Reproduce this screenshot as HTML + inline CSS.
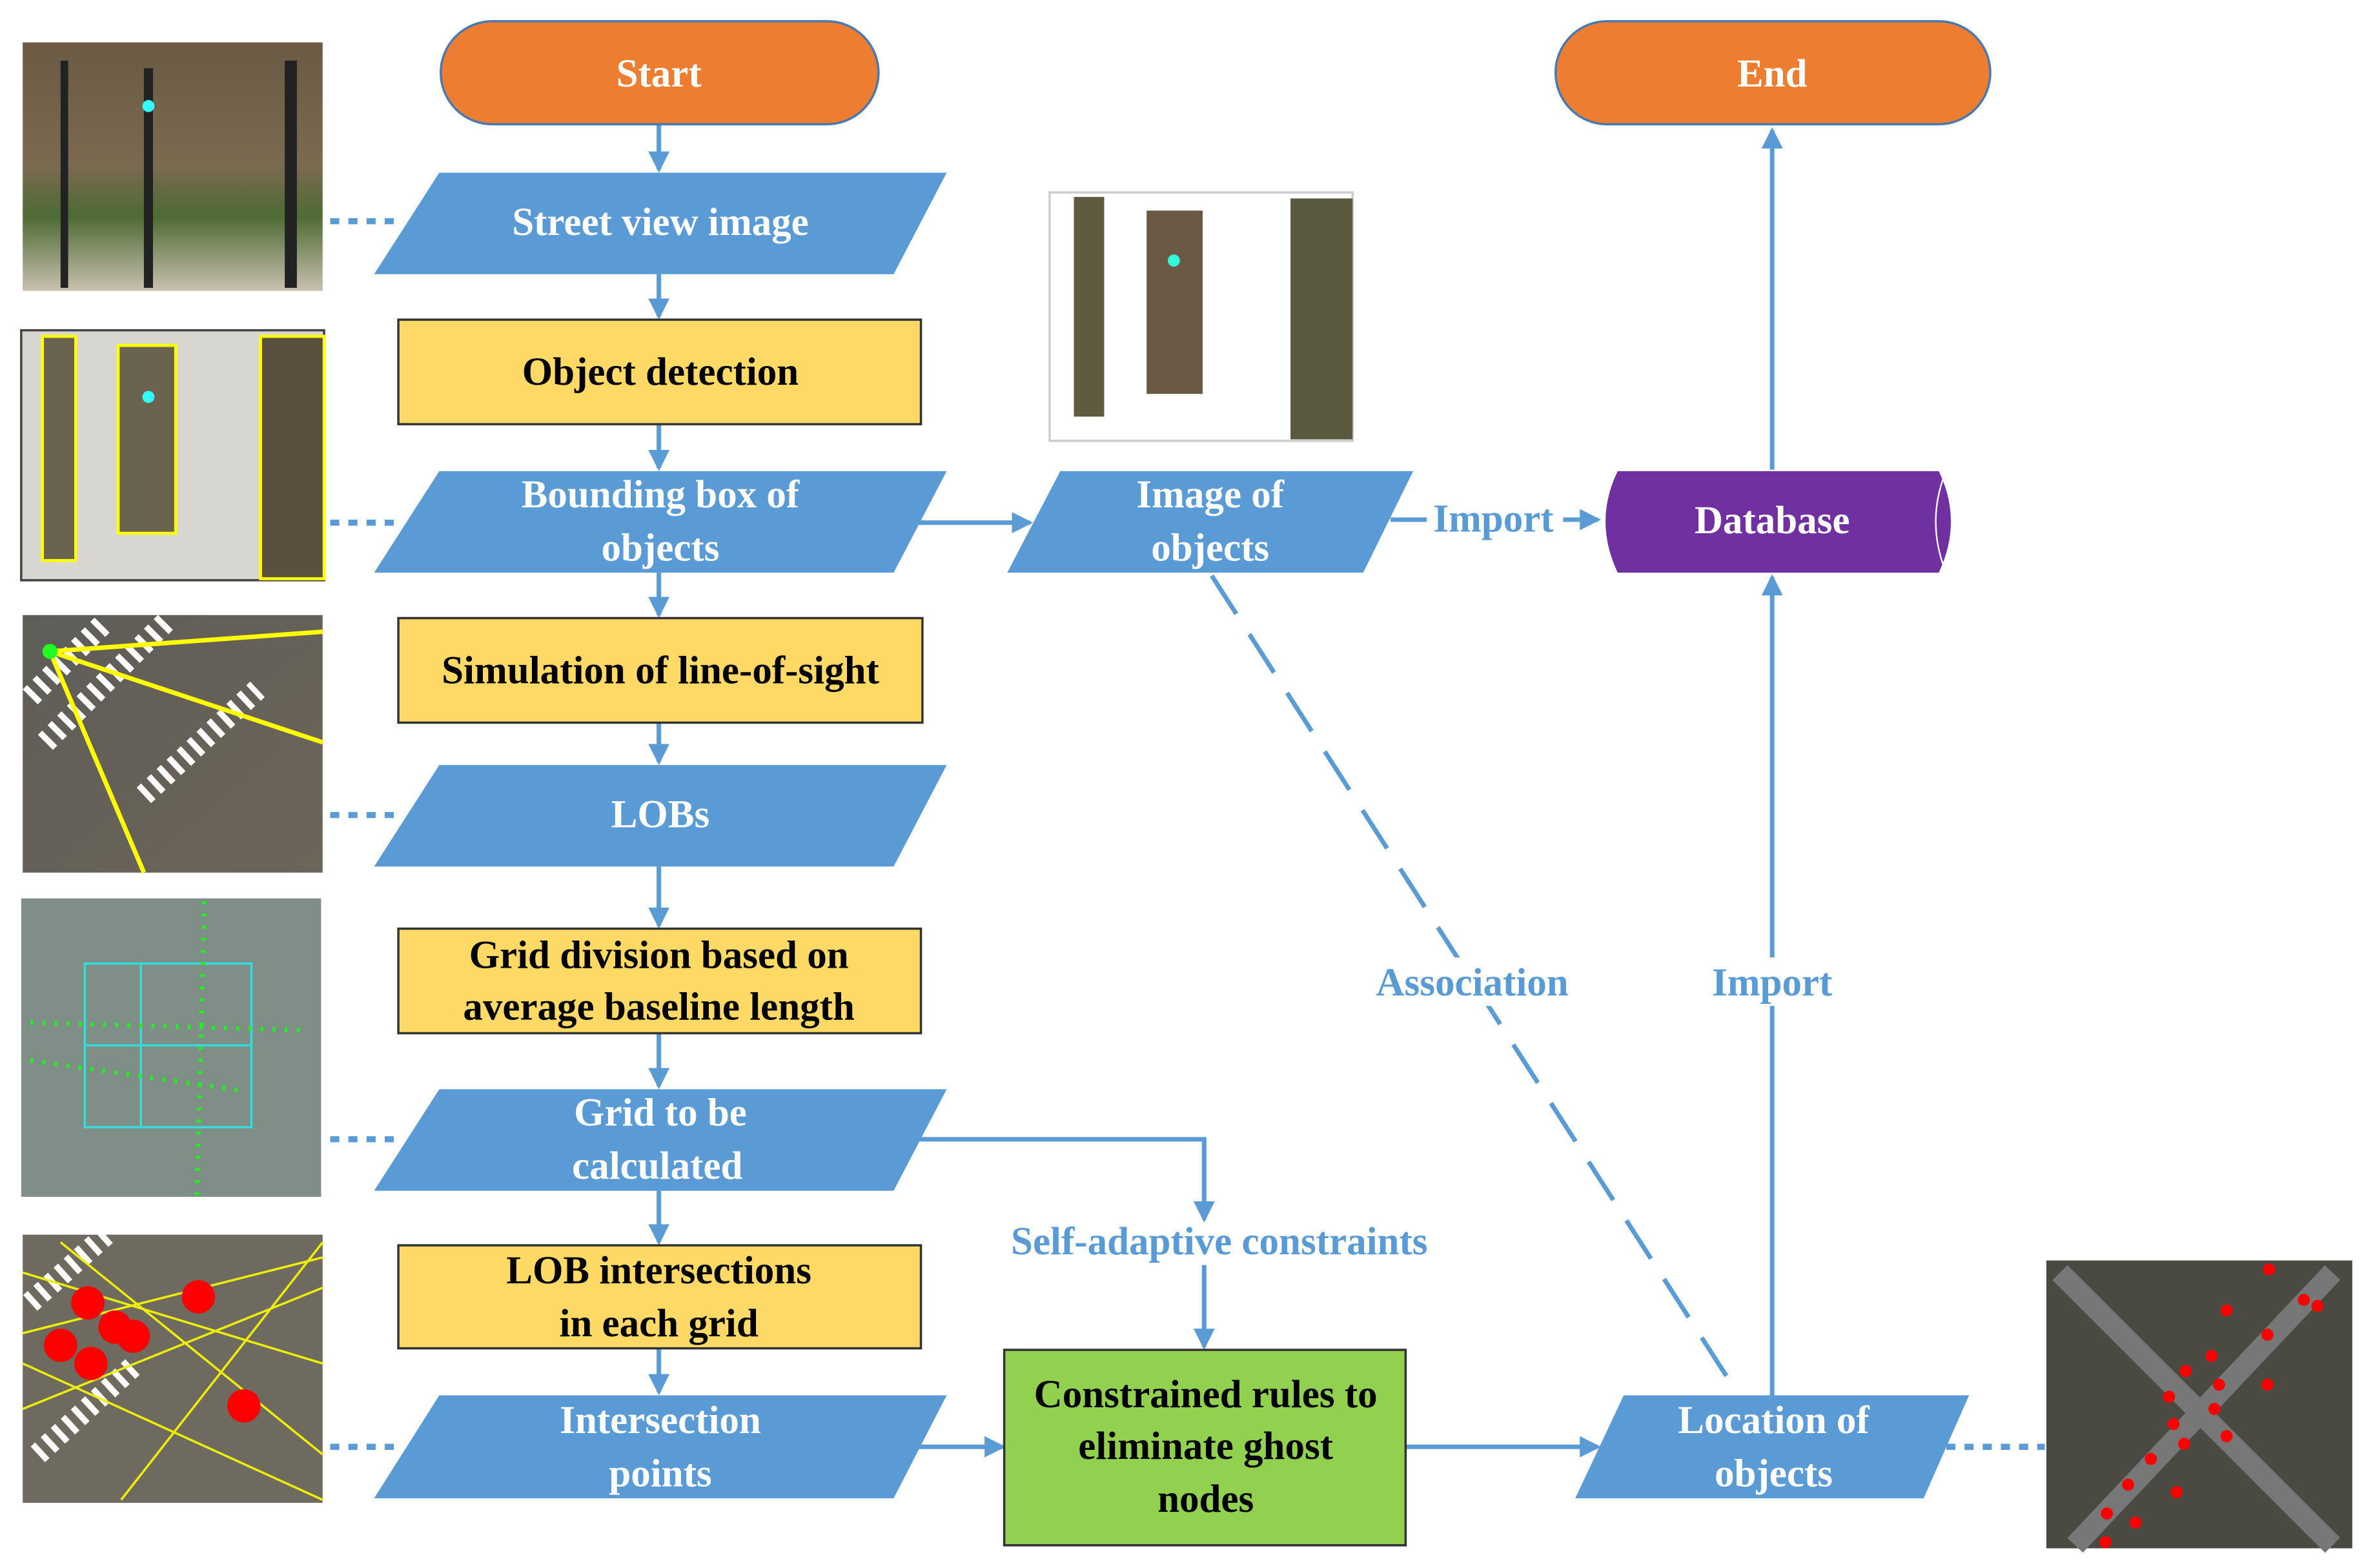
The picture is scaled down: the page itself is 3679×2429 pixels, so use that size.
<!DOCTYPE html>
<html><head><meta charset="utf-8"><style>
html,body{margin:0;padding:0;background:#fff;}
svg{display:block;}
text{font-family:"Liberation Serif",serif;font-weight:bold;}
.w{fill:#fff;font-size:26px;text-anchor:middle;}
.k{fill:#000;font-size:26px;text-anchor:middle;}
.b{fill:#5B9BD5;font-size:26px;text-anchor:middle;}
.par{fill:#5B9BD5;}
.rect{fill:#FFD966;stroke:#333;stroke-width:1.5;}
.ln{stroke:#5B9BD5;stroke-width:3;fill:none;}
.dot{stroke:#5B9BD5;stroke-width:4;stroke-dasharray:6,6;fill:none;}
</style></head><body>
<svg width="3679" height="2429" viewBox="0 0 1568 1035" preserveAspectRatio="none" xmlns="http://www.w3.org/2000/svg">
<defs>
<marker id="a" markerWidth="10" markerHeight="10" refX="8" refY="5" orient="auto" markerUnits="userSpaceOnUse"><path d="M0,0 L10,5 L0,10 z" fill="#5B9BD5"/></marker>
<marker id="a2" markerWidth="14" markerHeight="14" refX="12" refY="7" orient="auto" markerUnits="userSpaceOnUse"><path d="M0,0 L14,7 L0,14 z" fill="#5B9BD5"/></marker>
<linearGradient id="street" x1="0" y1="0" x2="0" y2="1"><stop offset="0" stop-color="#6b5a44"/><stop offset="0.5" stop-color="#7a6a50"/><stop offset="0.7" stop-color="#4d6b33"/><stop offset="1" stop-color="#c9c0b0"/></linearGradient>
<linearGradient id="aer" x1="0" y1="0" x2="1" y2="1"><stop offset="0" stop-color="#5e5d58"/><stop offset="1" stop-color="#6d6558"/></linearGradient>
</defs>

<!-- left images -->
<rect x="15" y="28" width="198" height="164" fill="url(#street)"/>
<rect x="40" y="40" width="5" height="150" fill="#222"/><rect x="95" y="45" width="6" height="145" fill="#222"/><rect x="188" y="40" width="8" height="150" fill="#222"/>
<circle cx="98" cy="70" r="4" fill="#3ff"/>
<rect x="14" y="218" width="200" height="165" fill="#d8d6d0" stroke="#444" stroke-width="1.5"/>
<rect x="28" y="222" width="22" height="148" fill="#6a6350" stroke="#ff0" stroke-width="2"/>
<rect x="78" y="228" width="38" height="124" fill="#6a6350" stroke="#ff0" stroke-width="2"/>
<rect x="172" y="222" width="42" height="160" fill="#5a5040" stroke="#ff0" stroke-width="2"/>
<circle cx="98" cy="262" r="4" fill="#3ff"/>
<rect x="15" y="406" width="198" height="170" fill="url(#aer)"/>
<path d="M20,460 L70,410 M30,490 L110,410 M95,525 L170,455" stroke="#fff" stroke-width="14" stroke-dasharray="4,5" fill="none"/>
<path d="M33,430 L213,417 M33,430 L213,490 M33,430 L95,576" stroke="#ff0" stroke-width="3"/>
<circle cx="33" cy="430" r="5" fill="#2f2"/>
<rect x="14" y="593" width="198" height="197" fill="#7f8f88"/>
<rect x="56" y="636" width="110" height="108" fill="none" stroke="#3dd" stroke-width="1.5"/>
<line x1="93" y1="636" x2="93" y2="744" stroke="#3dd" stroke-width="1.5"/><line x1="56" y1="690" x2="166" y2="690" stroke="#3dd" stroke-width="1.5"/>
<path d="M135,595 L130,790 M20,675 L200,680 M20,700 L160,720" stroke="#2e2" stroke-width="3" stroke-dasharray="2,6" fill="none"/>
<rect x="15" y="815" width="198" height="177" fill="#6e6a60"/>
<path d="M20,860 L70,815 M25,960 L90,900" stroke="#fff" stroke-width="14" stroke-dasharray="4,5" fill="none"/>
<path d="M15,840 L213,900 M15,880 L213,830 M40,820 L213,960 M15,930 L213,850 M80,990 L213,820 M15,900 L213,990" stroke="#ee0" stroke-width="1.5"/>
<g fill="#f00"><circle cx="58" cy="860" r="11"/><circle cx="76" cy="876" r="11"/><circle cx="88" cy="882" r="11"/><circle cx="40" cy="888" r="11"/><circle cx="60" cy="900" r="11"/><circle cx="131" cy="856" r="11"/><circle cx="161" cy="928" r="11"/></g>

<!-- image of objects crop -->
<rect x="693" y="127" width="200" height="164" fill="#fff" stroke="#ccc" stroke-width="1.5"/>
<rect x="709" y="130" width="20" height="145" fill="#5f5a40"/>
<rect x="757" y="139" width="37" height="121" fill="#6a5a45"/>
<circle cx="775" cy="172" r="4" fill="#3fd"/>
<rect x="852" y="131" width="41" height="159" fill="#5b5840"/>

<!-- right map -->
<rect x="1351" y="832" width="202" height="190" fill="#4a4a42"/>
<path d="M1360,840 L1540,1020 M1540,840 L1370,1020" stroke="#777" stroke-width="14"/>
<g fill="#f00"><circle cx="1498" cy="838" r="4"/><circle cx="1521" cy="858" r="4"/><circle cx="1530" cy="862" r="4"/><circle cx="1470" cy="865" r="4"/><circle cx="1497" cy="881" r="4"/><circle cx="1460" cy="895" r="4"/><circle cx="1443" cy="905" r="4"/><circle cx="1465" cy="914" r="4"/><circle cx="1497" cy="914" r="4"/><circle cx="1432" cy="922" r="4"/><circle cx="1462" cy="930" r="4"/><circle cx="1435" cy="940" r="4"/><circle cx="1470" cy="948" r="4"/><circle cx="1442" cy="953" r="4"/><circle cx="1420" cy="963" r="4"/><circle cx="1405" cy="980" r="4"/><circle cx="1437" cy="985" r="4"/><circle cx="1391" cy="999" r="4"/><circle cx="1410" cy="1005" r="4"/><circle cx="1390" cy="1018" r="4"/></g>

<!-- dotted connectors -->
<path class="dot" d="M218,146 H262 M218,345 H262 M218,538 H262 M218,752 H262 M218,955 H262 M1285,955 H1350"/>

<!-- vertical arrows main column -->
<g class="ln" marker-end="url(#a2)">
<line x1="435" y1="82" x2="435" y2="112"/>
<line x1="435" y1="181" x2="435" y2="209"/>
<line x1="435" y1="280" x2="435" y2="309"/>
<line x1="435" y1="378" x2="435" y2="406"/>
<line x1="435" y1="477" x2="435" y2="503"/>
<line x1="435" y1="572" x2="435" y2="611"/>
<line x1="435" y1="682" x2="435" y2="717"/>
<line x1="435" y1="786" x2="435" y2="820"/>
<line x1="435" y1="890" x2="435" y2="919"/>
<line x1="605" y1="345" x2="680" y2="345"/>
<line x1="1032" y1="343" x2="1055" y2="343"/>
<line x1="1170" y1="310" x2="1170" y2="86"/>
<line x1="1170" y1="921" x2="1170" y2="381"/>
<line x1="600" y1="955" x2="662" y2="955"/>
<line x1="928" y1="955" x2="1055" y2="955"/>
<polyline points="605,752 795,752 795,805"/>
<line x1="795" y1="835" x2="795" y2="889"/>
</g>
<line class="ln" x1="918" y1="343" x2="942" y2="343"/>
<line class="ln" x1="800" y1="380" x2="1148" y2="921" stroke-dasharray="30,16"/>
<rect x="900" y="632" width="145" height="32" fill="#fff"/>
<rect x="1125" y="632" width="92" height="32" fill="#fff"/>

<!-- start / end -->
<rect x="291" y="14" width="289" height="68" rx="34" fill="#ED7D31" stroke="#4a78b0" stroke-width="1.5"/>
<text class="w" x="435" y="57">Start</text>
<rect x="1027" y="14" width="287" height="68" rx="34" fill="#ED7D31" stroke="#4a78b0" stroke-width="1.5"/>
<text class="w" x="1170" y="57">End</text>

<!-- parallelograms -->
<polygon class="par" points="290,114 625,114 590,181 247,181"/>
<text class="w" x="436" y="155">Street view image</text>
<polygon class="par" points="290,311 625,311 590,378 247,378"/>
<text class="w" x="436" y="335">Bounding box of</text><text class="w" x="436" y="370">objects</text>
<polygon class="par" points="290,505 625,505 590,572 247,572"/>
<text class="w" x="436" y="546">LOBs</text>
<polygon class="par" points="290,719 625,719 590,786 247,786"/>
<text class="w" x="436" y="743">Grid to be</text><text class="w" x="434" y="778">calculated</text>
<polygon class="par" points="290,921 625,921 590,989 247,989"/>
<text class="w" x="436" y="946">Intersection</text><text class="w" x="436" y="981">points</text>
<polygon class="par" points="700,311 933,311 900,378 665,378"/>
<text class="w" x="799" y="335">Image of</text><text class="w" x="799" y="370">objects</text>
<polygon class="par" points="1072,921 1300,921 1270,989 1040,989"/>
<text class="w" x="1171" y="946">Location of</text><text class="w" x="1171" y="981">objects</text>

<!-- rectangles -->
<rect class="rect" x="263" y="211" width="345" height="69"/>
<text class="k" x="436" y="254">Object detection</text>
<rect class="rect" x="263" y="408" width="346" height="69"/>
<text class="k" x="436" y="451">Simulation of line-of-sight</text>
<rect class="rect" x="263" y="613" width="345" height="69"/>
<text class="k" x="435" y="639">Grid division based on</text><text class="k" x="435" y="673">average baseline length</text>
<rect class="rect" x="263" y="822" width="345" height="68"/>
<text class="k" x="435" y="847">LOB intersections</text><text class="k" x="435" y="882">in each grid</text>
<rect x="663" y="891" width="265" height="129" fill="#92D050" stroke="#333" stroke-width="1.5"/>
<text class="k" x="796" y="929">Constrained rules to</text><text class="k" x="796" y="963">eliminate ghost</text><text class="k" x="796" y="998">nodes</text>

<!-- database -->
<path d="M1068,311 H1280 Q1296,344 1280,378 H1068 Q1052,344 1068,311 Z" fill="#7030A0"/>
<path d="M1284,313 Q1272,344 1284,376" stroke="#fff" stroke-width="1" fill="none"/>
<text class="w" x="1170" y="352">Database</text>

<!-- labels -->
<text class="b" x="986" y="351">Import</text>
<text class="b" x="972" y="657">Association</text>
<text class="b" x="1170" y="657">Import</text>
<text class="b" x="805" y="828">Self-adaptive constraints</text>
</svg>
</body></html>
